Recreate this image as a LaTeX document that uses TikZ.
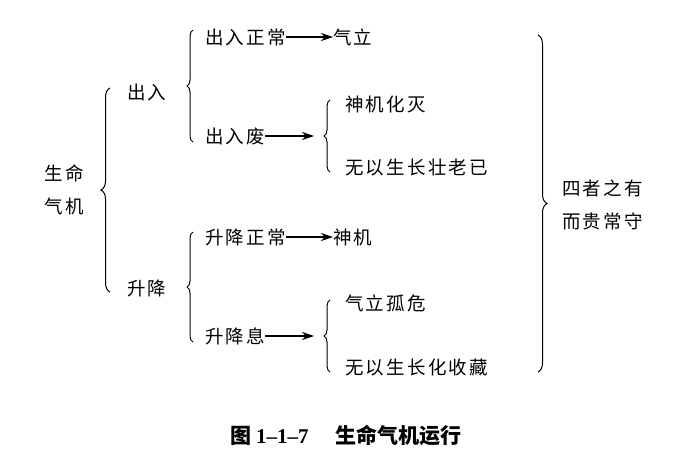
\documentclass[tikz,border=0pt]{standalone}
\usepackage{fontspec}
\setmainfont{Liberation Serif}
\newfontfamily\cjk{Noto Sans CJK SC}[LetterSpace=12]
\newfontfamily\cjkcap{Noto Sans CJK SC}
\usetikzlibrary{decorations.pathreplacing,arrows.meta}
\begin{document}
\begin{tikzpicture}[x=1pt,y=-1pt,
  txt/.style={anchor=west,inner sep=0pt,font=\cjk\fontsize{18.5}{30}\selectfont},
  twoline/.style={inner sep=0pt,align=left,font=\cjk\fontsize{18.5}{33}\selectfont},
  brc/.style={decorate,decoration={brace,amplitude=6pt},line width=1pt},
  bigbrc/.style={decorate,decoration={brace,amplitude=9pt},line width=1pt},
  arr/.style={-{Stealth[length=12pt,width=8pt]},line width=1.2pt}]
\useasboundingbox (0,0) rectangle (686,461);
% left root
\node[twoline,anchor=center] (root) at (64,190) {生命\\气机};
\draw[bigbrc] (110,292) -- (110,88);
% level 1
\node[txt] (cr) at (127,92) {出入};
\node[txt] (sj) at (127,288) {升降};
\draw[brc] (193,142) -- (193,30);
\draw[brc] (193,342) -- (193,232);
% 出入 branch
\node[txt] (crzc) at (205,37) {出入正常};
\node[txt] (ql) at (333,37) {气立};
\draw[arr] (crzc.east) -- (ql.west);
\node[txt] (crf) at (205,136) {出入废};
\coordinate (crfe) at (314,136);
\draw[arr] (crf.east) -- (crfe);
\draw[brc] (330,172) -- (330,100);
\node[txt] (sjhm) at (345,104) {神机化灭};
\node[txt] (wy1) at (345,168) {无以生长壮老已};
% 升降 branch
\node[txt] (sjzc) at (205,237) {升降正常};
\node[txt] (sj2) at (333,237) {神机};
\draw[arr] (sjzc.east) -- (sj2.west);
\node[txt] (sjx) at (205,336) {升降息};
\coordinate (sjxe) at (314,336);
\draw[arr] (sjx.east) -- (sjxe);
\draw[brc] (330,372) -- (330,300);
\node[txt] (qlgw) at (345,303) {气立孤危};
\node[txt] (wy2) at (345,368) {无以生长化收藏};
% right
\draw[bigbrc] (538,35) -- (538,372);
\node[twoline,anchor=west] (sz) at (562,205) {四者之有\\而贵常守};
% caption
\node[inner sep=0pt] (cap) at (346,435) {\cjkcap\bfseries\fontsize{21}{24}\selectfont 图 \textbf{\fontsize{21}{24}\selectfont\rmfamily 1--1--7}\hspace{1.3em}生命气机运行};
\end{tikzpicture}
\end{document}
